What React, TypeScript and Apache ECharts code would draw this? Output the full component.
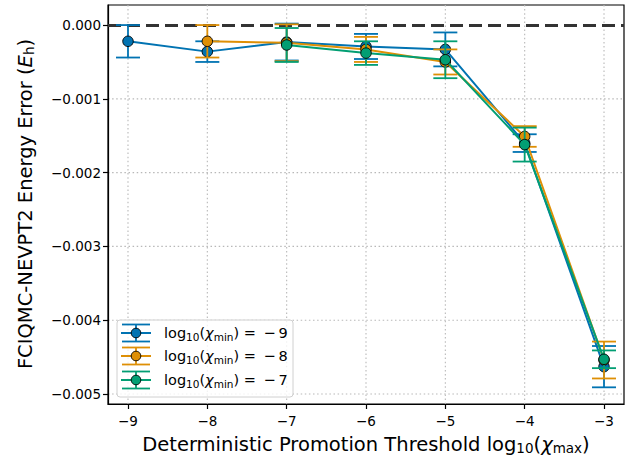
import React, { useEffect, useRef } from "react";
import * as echarts from "echarts";

const xTicks = [-9, -8, -7, -6, -5, -4, -3];
const yTicks = [0, -0.001, -0.002, -0.003, -0.004, -0.005];

const legendLabels = ["9", "8", "7"];
const colors = ["#0173B2", "#DE8F05", "#029E73"];

const xChiM9 = [-9, -8, -7, -6, -5, -4, -3];
const errEnergyM9 = [-0.00022, -0.00036, -0.00023, -0.00029, -0.00033, -0.0016, -0.00463];
const errBarM9 = [0.00022, 0.00014, 0.00025, 0.00017, 0.00023, 0.00012, 0.00028];

const xChiM8 = [-8, -7, -6, -5, -4, -3];
const errEnergyM8 = [-0.00022, -0.00024, -0.00033, -0.0005, -0.00151, -0.00454];
const errBarM8 = [0.00022, 0.00025, 0.00017, 0.00017, 0.00014, 0.00025];

const xChiM7 = [-7, -6, -5, -4, -3];
const errEnergyM7 = [-0.00027, -0.00038, -0.00047, -0.00162, -0.00453];
const errBarM7 = [0.00023, 0.00016, 0.00025, 0.00023, 0.00012];

const groups = [
  { xs: xChiM9, ys: errEnergyM9, es: errBarM9 },
  { xs: xChiM8, ys: errEnergyM8, es: errBarM8 },
  { xs: xChiM7, ys: errEnergyM7, es: errBarM7 },
];

const FONT = "DejaVu Sans";

function errorSeries(color: string, xs: number[], ys: number[], es: number[], z: number) {
  return {
    type: "custom",
    z,
    silent: true,
    clip: false,
    data: xs.map((x, i) => [x, ys[i], es[i]]),
    encode: { x: 0, y: 1 },
    renderItem: (params: any, api: any) => {
      const x = api.value(0);
      const y = api.value(1);
      const e = api.value(2);
      const top = api.coord([x, y + e]);
      const bot = api.coord([x, y - e]);
      const style = { stroke: color, lineWidth: 1.8 };
      const cw = 12;
      return {
        type: "group",
        children: [
          { type: "line", shape: { x1: top[0], y1: top[1], x2: bot[0], y2: bot[1] }, style },
          { type: "line", shape: { x1: top[0] - cw, y1: top[1], x2: top[0] + cw, y2: top[1] }, style },
          { type: "line", shape: { x1: bot[0] - cw, y1: bot[1], x2: bot[0] + cw, y2: bot[1] }, style },
        ],
      };
    },
  };
}

function lineSeries(color: string, xs: number[], ys: number[], z: number) {
  return {
    type: "line",
    z,
    silent: true,
    data: xs.map((x, i) => [x, ys[i]]),
    symbol: "circle",
    symbolSize: 10.5,
    showSymbol: true,
    lineStyle: { color, width: 2 },
    itemStyle: { color, borderColor: "#000", borderWidth: 0.9 },
  };
}

export default function App() {
  const ref = useRef<HTMLDivElement>(null);
  useEffect(() => {
    if (!ref.current) return;
    const chart = echarts.init(ref.current, undefined, { renderer: "svg" });

    const series: any[] = [];
    // dotted grid lines drawn at the tick values
    series.push({
      type: "custom",
      z: 0,
      silent: true,
      clip: false,
      data: [
        ...xTicks.map((v) => [v, 0, 0]),
        ...yTicks.filter((v) => v !== 0).map((v) => [xTicks[0], v, 1]),
      ],
      encode: { x: 0, y: 1 },
      renderItem: (params: any, api: any) => {
        const cs = params.coordSys;
        const p = api.coord([api.value(0), api.value(1)]);
        const kind = api.value(2);
        const style = { stroke: "#b8b8b8", lineWidth: 1.1, lineDash: [1.5, 2.6] };
        if (kind === 0) {
          return { type: "line", shape: { x1: p[0], y1: cs.y, x2: p[0], y2: cs.y + cs.height }, style };
        }
        return { type: "line", shape: { x1: cs.x, y1: p[1], x2: cs.x + cs.width, y2: p[1] }, style };
      },
    });
    groups.forEach((g, k) => {
      series.push(errorSeries(colors[k], g.xs, g.ys, g.es, 3 + k * 2));
      series.push(lineSeries(colors[k], g.xs, g.ys, 4 + k * 2));
    });
    series.push({
      type: "line",
      z: 2,
      silent: true,
      data: [],
      markLine: {
        silent: true,
        symbol: "none",
        label: { show: false },
        animation: false,
        z: 2,
        lineStyle: { color: "#333333", width: 2.8, type: [13, 6] },
        data: [{ yAxis: 0 }],
      },
    });

    const TS = 19.5;
    const rich = {
      n: { fontFamily: FONT, fontSize: TS, color: "#000", lineHeight: 22, verticalAlign: "middle" },
      i: { fontFamily: FONT, fontSize: TS, color: "#000", fontStyle: "italic", lineHeight: 22, verticalAlign: "middle" },
      s: { fontFamily: FONT, fontSize: 13.5, color: "#000", lineHeight: 9, verticalAlign: "bottom" },
    };
    const LS = 14.5;
    const lrich = {
      n: { fontFamily: FONT, fontSize: LS, color: "#000", lineHeight: 18, verticalAlign: "middle" },
      i: { fontFamily: FONT, fontSize: LS, color: "#000", fontStyle: "italic", lineHeight: 18, verticalAlign: "middle" },
      s: { fontFamily: FONT, fontSize: 10.5, color: "#000", lineHeight: 8, verticalAlign: "bottom" },
    };

    const legendX = 117;
    const legendY = 320;
    const rowYs = [333, 356, 380];
    const legendEls: any[] = [
      {
        type: "rect",
        shape: { x: legendX, y: legendY, width: 176, height: 77, r: 3 },
        style: { fill: "rgba(255,255,255,0.8)", stroke: "#d0d0d0", lineWidth: 1 },
        z: 20,
      },
    ];
    rowYs.forEach((ry, k) => {
      const c = colors[k];
      const st = { stroke: c, lineWidth: 1.8 };
      legendEls.push(
        { type: "line", shape: { x1: 121, y1: ry, x2: 151, y2: ry }, style: { stroke: c, lineWidth: 2 }, z: 21 },
        { type: "line", shape: { x1: 136, y1: ry - 8.5, x2: 136, y2: ry + 8.5 }, style: st, z: 21 },
        { type: "line", shape: { x1: 122, y1: ry - 8.5, x2: 150, y2: ry - 8.5 }, style: st, z: 21 },
        { type: "line", shape: { x1: 122, y1: ry + 8.5, x2: 150, y2: ry + 8.5 }, style: st, z: 21 },
        { type: "circle", shape: { cx: 136, cy: ry, r: 4.8 }, style: { fill: c, stroke: "#000", lineWidth: 0.9 }, z: 22 },
        {
          type: "text",
          x: 164,
          y: ry,
          z: 22,
          style: {
            text: `{n|log}{s|10}{n|(}{i|χ}{s|min}{n|) =\u2009 −\u2009${legendLabels[k]}}`,
            rich: lrich,
            verticalAlign: "middle",
            align: "left",
          },
        }
      );
    });

    chart.setOption({
      animation: false,
      backgroundColor: "#fff",
      grid: {
        left: 108,
        top: 5,
        width: 516,
        height: 399,
        show: true,
        borderColor: "#000",
        borderWidth: 1.2,
        backgroundColor: "transparent",
      },
      xAxis: {
        type: "value",
        min: -9.252,
        max: -2.748,
        splitLine: { show: false },
        axisLine: { show: true, onZero: false, lineStyle: { color: "#000", width: 1.2 } },
        axisTick: { show: true, length: 5, lineStyle: { color: "#000", width: 1.2 }, customValues: xTicks },
        axisLabel: {
          customValues: xTicks,
          formatter: (v: number) => (v < 0 ? "−" + Math.abs(v) : String(v)),
          color: "#000",
          fontFamily: FONT,
          fontSize: 13.5,
          margin: 10,
        },
      },
      yAxis: {
        type: "value",
        min: -0.005136,
        max: 0.000272,
        splitLine: { show: false },
        axisLine: { show: true, onZero: false, lineStyle: { color: "#000", width: 1.2 } },
        axisTick: { show: true, length: 5, lineStyle: { color: "#000", width: 1.2 }, customValues: yTicks },
        axisLabel: {
          customValues: yTicks,
          formatter: (v: number) => (Math.abs(v) < 1e-12 ? "0.000" : "−" + Math.abs(v).toFixed(3)),
          color: "#000",
          fontFamily: FONT,
          fontSize: 13.5,
          margin: 7,
        },
      },
      graphic: [
        {
          type: "text",
          x: 25,
          y: 204,
          rotation: Math.PI / 2,
          style: {
            text: "{n|FCIQMC-NEVPT2 Energy Error (}{i|E}{s|h}{n|)}",
            rich,
            align: "center",
            verticalAlign: "middle",
          },
        },
        {
          type: "text",
          x: 366,
          y: 444,
          style: {
            text: "{n|Deterministic Promotion Threshold log}{s|10}{n|(}{i|χ}{s|max}{n|)}",
            rich,
            align: "center",
            verticalAlign: "middle",
          },
        },
        ...legendEls,
      ],
      series,
    });
    return () => chart.dispose();
  }, []);
  return <div ref={ref} style={{ position: "fixed", left: 0, top: 0, width: 631, height: 457 }} />;
}
